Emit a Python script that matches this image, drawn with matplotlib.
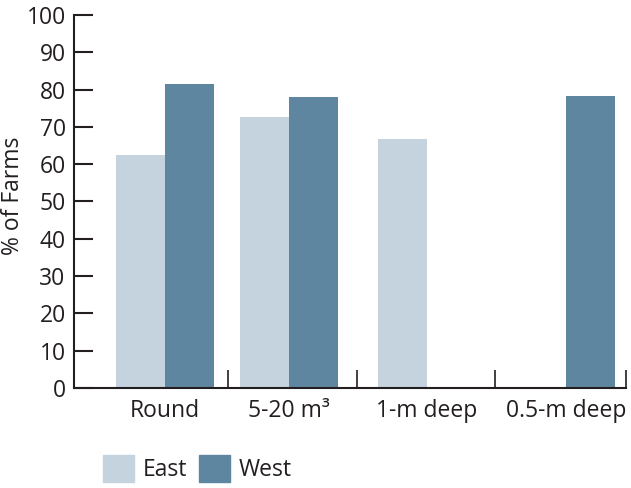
import matplotlib.pyplot as plt

plt.rcParams['font.family'] = ['Open Sans', 'DejaVu Sans']

categories = ['Round', '5-20 m³', '1-m deep', '0.5-m deep']
east = [62.4, 72.7, 66.7, 0]
west = [81.5, 77.9, 0, 78.3]
yticks = list(range(0, 101, 10))

east_color = '#c5d3df'
west_color = '#5e86a0'
axis_color = '#231f20'
fs = 16.5

# group centres and separators along the x axis
group_x = [0, 0.928, 1.96, 3.0]
separators = [0.471, 1.436, 2.469, 3.449]
bar_w = 0.367

fig = plt.figure(figsize=(6.31, 4.88), dpi=100)
ax = fig.add_axes([0.1173, 0.2049, 0.992 - 0.1173, 0.9693 - 0.2049])

for x, e, w in zip(group_x, east, west):
    if e:
        ax.bar(x - bar_w / 2, e, bar_w, color=east_color, edgecolor='none')
    if w:
        ax.bar(x + bar_w / 2, w, bar_w, color=west_color, edgecolor='none')

ax.set_xlim(-0.681, 3.449)
ax.set_ylim(0, 100)

for side in ['top', 'right']:
    ax.spines[side].set_visible(False)
for side in ['left', 'bottom']:
    ax.spines[side].set_linewidth(1.5)
    ax.spines[side].set_color(axis_color)

ax.set_yticks(yticks)
ax.tick_params(axis='y', direction='in', length=13.7, width=1.5, color=axis_color,
               labelsize=fs, pad=6, labelcolor=axis_color)

ax.set_xticks(group_x)
ax.set_xticklabels(categories)
ax.set_xticks(separators, minor=True)
ax.tick_params(axis='x', which='major', length=0, labelsize=fs, pad=8, labelcolor=axis_color)
ax.tick_params(axis='x', which='minor', direction='in', length=13, width=1.2, color=axis_color)

ax.set_ylabel('% of Farms', fontsize=fs, color=axis_color)
ax.yaxis.set_label_coords(-0.089, 0.515)

handles = [plt.Rectangle((0, 0), 1, 1, color=east_color),
           plt.Rectangle((0, 0), 1, 1, color=west_color)]
fig.legend(handles, ['East', 'West'], loc='lower left', bbox_to_anchor=(0.13, -0.03),
           ncol=2, frameon=False, fontsize=fs, handlelength=1.35, handleheight=1.45,
           handletextpad=0.4, columnspacing=0.5, labelcolor=axis_color)

fig.savefig('out.png', dpi=100)
